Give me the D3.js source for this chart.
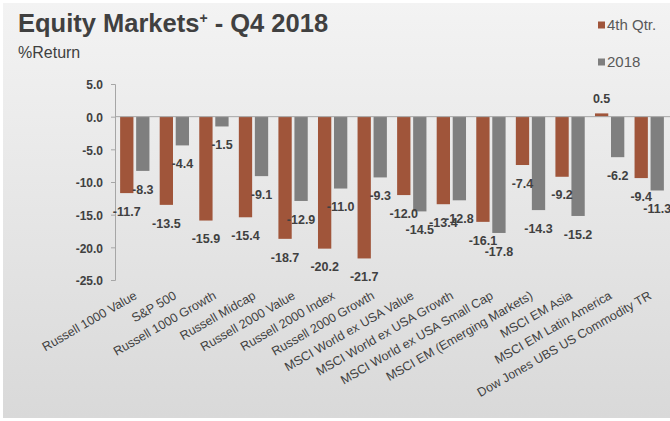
<!DOCTYPE html>
<html>
<head>
<meta charset="utf-8">
<script src="https://cdn.jsdelivr.net/npm/d3@7"></script>
<style>
  body { margin: 0; background: #fff; }
  text { font-family: "Liberation Sans", Arial, sans-serif; }
</style>
</head>
<body>
<div id="vis-container"></div>
<script>
// chart data
const categories = [
  "Russell 1000 Value", "S&P 500", "Russell 1000 Growth", "Russell Midcap",
  "Russell 2000 Value", "Russell 2000 Index", "Russell 2000 Growth",
  "MSCI World ex USA Value", "MSCI World ex USA Growth", "MSCI World ex USA Small Cap",
  "MSCI EM (Emerging Markets)", "MSCI EM Asia", "MSCI EM Latin America",
  "Dow Jones UBS US Commodity TR"
];
const qtrValues = [-11.7, -13.5, -15.9, -15.4, -18.7, -20.2, -21.7, -12.0, -13.4, -16.1, -7.4, -9.2, 0.5, -9.4];
const yearValues = [-8.3, -4.4, -1.5, -9.1, -12.9, -11.0, -9.3, -14.5, -12.8, -17.8, -14.3, -15.2, -6.2, -11.3];
const seriesNames = ["4th Qtr.", "2018"];
const yTicks = [5, 0, -5, -10, -15, -20, -25];

const colors = ["#a0553a", "#7f7f7f"];

let width = 670;
let height = 421;

// plain hyphen instead of unicode minus
let fmt = d => d.toFixed(1);

let svg = d3.select("#vis-container").append("svg").attr("width", width).attr("height", height);

// background gradient
let defs = svg.append("defs");
let grad = defs.append("linearGradient").attr("id", "bg").attr("x1", 0).attr("y1", 0).attr("x2", 0).attr("y2", 1);
grad.append("stop").attr("offset", "0%").attr("stop-color", "#f3f3f3");
grad.append("stop").attr("offset", "100%").attr("stop-color", "#d9d9d9");
svg.append("rect").attr("x", 3).attr("y", 3).attr("width", width - 3).attr("height", height - 6).attr("fill", "url(#bg)");

// title
let title = svg.append("text").attr("x", 18).attr("y", 32)
  .style("font-size", "25.5px").style("font-weight", "bold").style("fill", "#404040");
title.append("tspan").text("Equity Markets");
title.append("tspan").attr("dy", -9).style("font-size", "14px").text("+");
title.append("tspan").attr("dy", 9).text(" - Q4 2018");
svg.append("text").attr("x", 18).attr("y", 58)
  .style("font-size", "16px").style("fill", "#404040").text("%Return");

// scales
let xScale = d3.scaleBand().domain(categories).range([115, 669]);
let inner = d3.scaleBand().domain([0, 1]).range([0, xScale.bandwidth()]).paddingInner(0.17).paddingOuter(0.32);
let yScale = d3.scaleLinear().domain([-25, 5]).range([280, 84]);

// y axis
let yAxis = svg.append("g").attr("transform", "translate(115,0)")
  .call(d3.axisLeft(yScale).tickValues(yTicks).tickSize(4).tickFormat(fmt));
yAxis.select(".domain").attr("stroke", "#a6a6a6");
yAxis.selectAll(".tick line").attr("stroke", "#a6a6a6");
yAxis.selectAll(".tick text").attr("x", -12).attr("dy", "0.4em")
  .style("font-size", "12px").style("font-weight", "bold").style("fill", "#404040").style("font-family", "Liberation Sans, Arial, sans-serif");

// bars
let series = [qtrValues, yearValues];
series.forEach((vals, s) => {
  let g = svg.append("g");
  g.selectAll("rect").data(vals).enter().append("rect")
    .attr("x", (d, i) => xScale(categories[i]) + inner(s))
    .attr("width", inner.bandwidth())
    .attr("y", d => yScale(Math.max(0, d)))
    .attr("height", d => Math.abs(yScale(d) - yScale(0)))
    .attr("fill", colors[s]);
});

// zero line
svg.append("line").attr("x1", 115).attr("x2", 670)
  .attr("y1", yScale(0)).attr("y2", yScale(0)).attr("stroke", "#a6a6a6");

// value labels
series.forEach((vals, s) => {
  svg.append("g").selectAll("text").data(vals).enter().append("text")
    .attr("x", (d, i) => xScale(categories[i]) + inner(s) + inner.bandwidth() / 2)
    .attr("y", d => d < 0 ? yScale(d) + 22.7 : yScale(d) - 10.7)
    .attr("text-anchor", "middle")
    .style("font-size", "12.5px").style("font-weight", "bold").style("fill", "#404040")
    .text(d => fmt(d));
});

// category labels
svg.append("g").selectAll("text").data(categories).enter().append("text")
  .attr("transform", d => "translate(" + (xScale(d) + xScale.bandwidth() / 2 + 3) + ",298) rotate(-30)")
  .attr("text-anchor", "end")
  .style("font-size", "12.5px").style("fill", "#404040")
  .text(d => d);

// legend
let legend = svg.append("g");
seriesNames.forEach((name, i) => {
  let y = 25 + i * 37;
  legend.append("rect").attr("x", 598).attr("y", y - 3.5).attr("width", 7).attr("height", 7).attr("fill", colors[i]);
  legend.append("text").attr("x", 607).attr("y", y + 5)
    .style("font-size", "15px").style("fill", "#595959").text(name);
});
</script>
</body>
</html>
